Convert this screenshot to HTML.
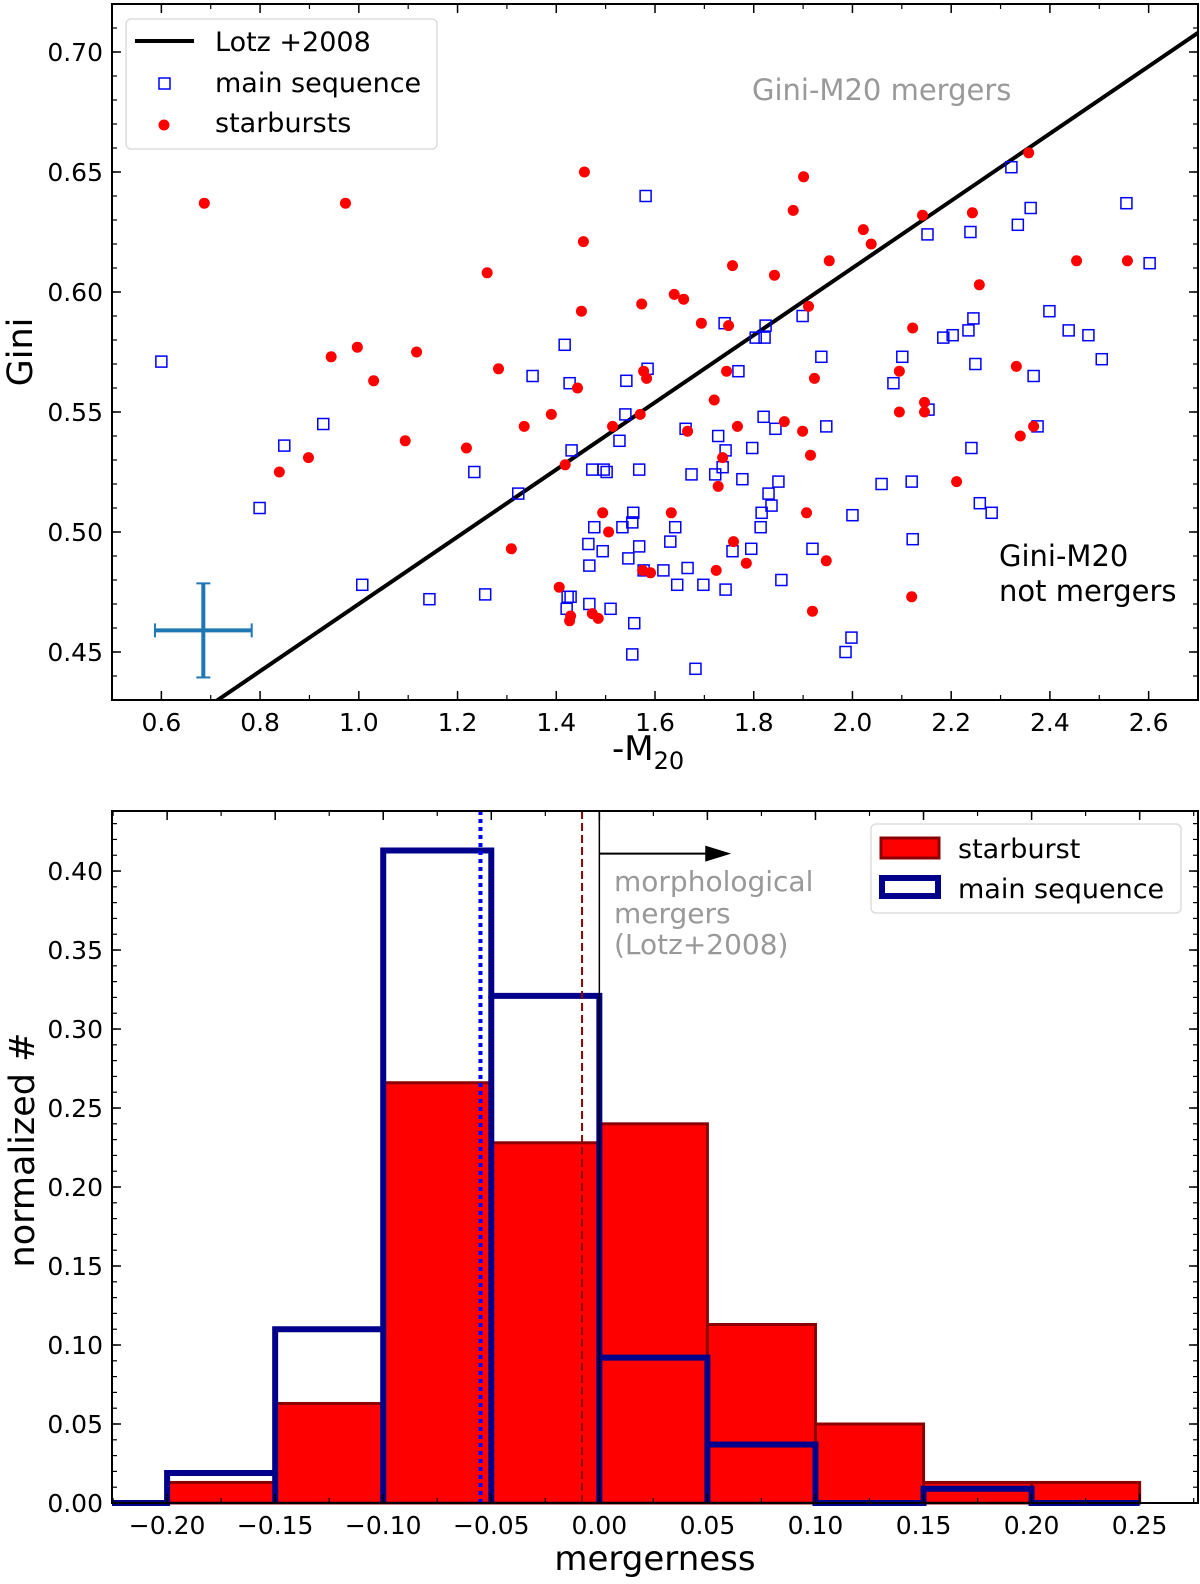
<!DOCTYPE html>
<html><head><meta charset="utf-8"><style>
body{margin:0;background:#fff}
svg{display:block;font-family:"DejaVu Sans","Liberation Sans",sans-serif}
</style></head><body>
<svg id="fig" width="1200" height="1584" viewBox="0 0 1200 1584" xmlns="http://www.w3.org/2000/svg"></svg>
<script>
// ---- top scatter data ----
const sbX=[0.687,0.973,0.944,0.997,1.030,1.117,1.094,0.839,0.898,1.218,1.260,1.283,1.335,1.390,1.418,1.443,1.451,1.457,1.455,1.309,1.406,1.429,1.427,1.473,1.485,1.494,1.506,1.514,1.570,1.577,1.583,1.573,1.575,1.591,1.633,1.639,1.658,1.666,1.694,1.720,1.728,1.724,1.737,1.745,1.749,1.757,1.767,1.785,1.842,1.862,1.880,1.901,1.899,1.911,1.915,1.907,1.919,1.923,1.947,1.953,2.022,2.038,2.142,2.122,2.095,2.095,2.120,2.146,2.146,2.211,2.243,2.257,2.332,2.340,2.367,2.357,2.454,2.557,1.759];
const sbY=[0.637,0.637,0.573,0.577,0.563,0.575,0.538,0.525,0.531,0.535,0.608,0.568,0.544,0.549,0.528,0.560,0.592,0.650,0.621,0.493,0.477,0.465,0.463,0.466,0.464,0.508,0.500,0.544,0.549,0.567,0.564,0.595,0.484,0.483,0.508,0.599,0.597,0.542,0.587,0.555,0.519,0.484,0.531,0.567,0.586,0.611,0.544,0.487,0.607,0.546,0.634,0.648,0.542,0.594,0.532,0.508,0.467,0.564,0.488,0.613,0.626,0.620,0.632,0.585,0.567,0.550,0.473,0.554,0.550,0.521,0.633,0.603,0.569,0.540,0.544,0.658,0.613,0.613,0.496];
const msX=[0.600,0.799,0.849,0.928,1.007,1.143,1.234,1.256,1.323,1.352,1.417,1.427,1.431,1.423,1.421,1.429,1.467,1.465,1.467,1.477,1.494,1.496,1.473,1.502,1.510,1.528,1.534,1.540,1.542,1.546,1.554,1.556,1.558,1.554,1.568,1.568,1.585,1.581,1.577,1.617,1.631,1.641,1.645,1.662,1.666,1.674,1.682,1.698,1.722,1.728,1.737,1.743,1.741,1.743,1.757,1.769,1.777,1.795,1.797,1.804,1.814,1.816,1.820,1.822,1.824,1.830,1.836,1.844,1.850,1.856,1.899,1.919,1.937,1.947,1.986,1.998,2.000,2.059,2.083,2.101,2.120,2.122,2.152,2.154,2.184,2.203,2.235,2.239,2.245,2.249,2.241,2.258,2.282,2.322,2.335,2.361,2.367,2.375,2.399,2.438,2.478,2.505,2.555,2.602];
const msY=[0.571,0.510,0.536,0.545,0.478,0.472,0.525,0.474,0.516,0.565,0.578,0.562,0.534,0.473,0.468,0.473,0.470,0.495,0.486,0.502,0.492,0.526,0.526,0.525,0.468,0.538,0.502,0.549,0.563,0.489,0.504,0.508,0.462,0.449,0.494,0.526,0.568,0.640,0.484,0.484,0.496,0.502,0.478,0.543,0.485,0.524,0.443,0.478,0.524,0.540,0.527,0.534,0.587,0.476,0.492,0.567,0.522,0.493,0.535,0.581,0.502,0.508,0.548,0.581,0.586,0.516,0.511,0.543,0.521,0.480,0.590,0.493,0.573,0.544,0.450,0.456,0.507,0.520,0.562,0.573,0.521,0.497,0.624,0.551,0.581,0.582,0.584,0.625,0.589,0.570,0.535,0.512,0.508,0.652,0.628,0.635,0.565,0.544,0.592,0.584,0.582,0.572,0.637,0.612];
const topXTicks=[0.6,0.8,1.0,1.2,1.4,1.6,1.8,2.0,2.2,2.4,2.6];
const topYTicks=[0.45,0.50,0.55,0.60,0.65,0.70];
// ---- bottom histogram data ----
const binEdges=[-0.20,-0.15,-0.10,-0.05,0.00,0.05,0.10,0.15,0.20,0.25];
const sbHist=[0.013,0.063,0.266,0.228,0.240,0.113,0.050,0.013,0.013];
const msHist=[0.019,0.110,0.413,0.321,0.092,0.037,0.000,0.009,0.000];
const botXTicks=[-0.20,-0.15,-0.10,-0.05,0.00,0.05,0.10,0.15,0.20,0.25];
const botYTicks=[0.00,0.05,0.10,0.15,0.20,0.25,0.30,0.35,0.40];
const msMedian=-0.055, sbMedian=-0.008, lotzCut=0.0;

const NS="http://www.w3.org/2000/svg";
const svg=document.getElementById('fig');
function mk(tag,attrs,parent){const e=document.createElementNS(NS,tag);for(const k in attrs)e.setAttribute(k,attrs[k]);(parent||svg).appendChild(e);return e;}

const T={l:112,r:1198,t:4,b:700,x0:0.5,x1:2.7,y0:0.43,y1:0.72};
const tx=v=>T.l+(v-T.x0)/(T.x1-T.x0)*(T.r-T.l);
const ty=v=>T.b-(v-T.y0)/(T.y1-T.y0)*(T.b-T.t);
const B={l:112,r:1198,t:811,b:1503,x0:-0.2255,x1:0.277,y0:0,y1:0.438};
const bx=v=>B.l+(v-B.x0)/(B.x1-B.x0)*(B.r-B.l);
const by=v=>B.b-(v-B.y0)/(B.y1-B.y0)*(B.b-B.t);

// ---- TOP PLOT ----
const gTop=mk('g',{});


const clipT=mk('clipPath',{id:'ct'});mk('rect',{x:T.l,y:T.t,width:T.r-T.l,height:T.b-T.t},clipT);
const lotz=mk('line',{x1:tx(0.5),y1:ty(0.14*0.5+0.33),x2:tx(2.7),y2:ty(0.14*2.7+0.33),stroke:'#000','stroke-width':4,'clip-path':'url(#ct)'},gTop);


const eb=mk('g',{stroke:'#1f77b4','stroke-width':4},gTop);


const ex=0.685,ey=0.459,dx=0.098,dy=0.0196;
mk('line',{x1:tx(ex-dx),y1:ty(ey),x2:tx(ex+dx),y2:ty(ey)},eb);
mk('line',{x1:tx(ex),y1:ty(ey-dy),x2:tx(ex),y2:ty(ey+dy)},eb);
mk('line',{x1:tx(ex-dx),y1:ty(ey)-7,x2:tx(ex-dx),y2:ty(ey)+7,'stroke-width':2},eb);
mk('line',{x1:tx(ex+dx),y1:ty(ey)-7,x2:tx(ex+dx),y2:ty(ey)+7,'stroke-width':2},eb);
mk('line',{x1:tx(ex)-7,y1:ty(ey-dy),x2:tx(ex)+7,y2:ty(ey-dy),'stroke-width':2},eb);
mk('line',{x1:tx(ex)-7,y1:ty(ey+dy),x2:tx(ex)+7,y2:ty(ey+dy),'stroke-width':2},eb);
msX.forEach((x,i)=>{const r=mk('rect',{x:tx(x)-5.5,y:ty(msY[i])-5.5,width:11,height:11,fill:'none',stroke:'#0000ff','stroke-width':1.5},gTop);

});
sbX.forEach((x,i)=>{const c=mk('circle',{cx:tx(x),cy:ty(sbY[i]),r:5.5,fill:'#ff0000'},gTop);

});

function axesFrame(A,fx,fy,xt,yt,xminor,yminor,xfmt,yfmt,name){
  const g=mk('g',{});
  
  
  mk('rect',{x:A.l,y:A.t,width:A.r-A.l,height:A.b-A.t,fill:'none',stroke:'#000','stroke-width':2},g);
  xt.forEach(v=>{const p=fx(v);mk('line',{x1:p,y1:A.b,x2:p,y2:A.b-9,stroke:'#000','stroke-width':1.5},g);mk('line',{x1:p,y1:A.t,x2:p,y2:A.t+9,stroke:'#000','stroke-width':1.5},g);
    const t=mk('text',{x:p,y:A.b+31,'font-size':25,'text-anchor':'middle'},g);t.textContent=xfmt(v);
    
    });
  yt.forEach(v=>{const p=fy(v);mk('line',{x1:A.l,y1:p,x2:A.l+9,y2:p,stroke:'#000','stroke-width':1.5},g);mk('line',{x1:A.r,y1:p,x2:A.r-9,y2:p,stroke:'#000','stroke-width':1.5},g);
    const t=mk('text',{x:A.l-9,y:p+9,'font-size':25,'text-anchor':'end'},g);t.textContent=yfmt(v);
    
    });
  xminor.forEach(v=>{const p=fx(v);if(p<A.l||p>A.r)return;mk('line',{x1:p,y1:A.b,x2:p,y2:A.b-5,stroke:'#000','stroke-width':1.2},g);mk('line',{x1:p,y1:A.t,x2:p,y2:A.t+5,stroke:'#000','stroke-width':1.2},g);});
  yminor.forEach(v=>{const p=fy(v);if(p<A.t||p>A.b)return;mk('line',{x1:A.l,y1:p,x2:A.l+5,y2:p,stroke:'#000','stroke-width':1.2},g);mk('line',{x1:A.r,y1:p,x2:A.r-5,y2:p,stroke:'#000','stroke-width':1.2},g);});
}
const txm=[],tym=[];for(let v=0.5;v<2.75;v+=0.2)txm.push(v);for(let v=0.43;v<0.725;v+=0.01)tym.push(v);
axesFrame(T,tx,ty,topXTicks,topYTicks,txm,tym,v=>v.toFixed(1),v=>v.toFixed(2),'top-axes');

// ---- BOTTOM PLOT ----
const gB=mk('g',{});


sbHist.forEach((h,i)=>{const x0=bx(binEdges[i]),x1=bx(binEdges[i+1]);
  const r=mk('rect',{x:x0,y:by(h),width:x1-x0,height:by(0)-by(h),fill:'#ff0000',stroke:'#8b0000','stroke-width':3},gB);
  
  });
let d='M'+bx(B.x0)+','+by(0)+' L'+bx(binEdges[0])+','+by(0);
msHist.forEach((h,i)=>{d+=' L'+bx(binEdges[i])+','+by(h)+' L'+bx(binEdges[i+1])+','+by(h);});
d+=' L'+bx(binEdges[binEdges.length-1])+','+by(0);
msHist.forEach((h,i)=>{if(i>0){const p=mk('line',{x1:bx(binEdges[i]),y1:by(0),x2:bx(binEdges[i]),y2:by(Math.min(h,msHist[i-1])),stroke:'#00008b','stroke-width':6},gB);

}});
const ms=mk('path',{d:d,fill:'none',stroke:'#00008b','stroke-width':6},gB);


const l1=mk('line',{x1:bx(msMedian),y1:B.t,x2:bx(msMedian),y2:B.b,stroke:'#0000ff','stroke-width':4,'stroke-dasharray':'4,4'},gB);


const l2=mk('line',{x1:bx(sbMedian),y1:B.t,x2:bx(sbMedian),y2:B.b,stroke:'#8b0000','stroke-width':2,'stroke-dasharray':'8,4'},gB);


const l3=mk('line',{x1:bx(lotzCut),y1:B.t,x2:bx(lotzCut),y2:B.b,stroke:'#000','stroke-width':1.5},gB);


const ar=mk('g',{},gB);


mk('line',{x1:bx(0),y1:by(0.411),x2:bx(0.052),y2:by(0.411),stroke:'#000','stroke-width':2},ar);
mk('polygon',{points:`${bx(0.061)},${by(0.411)} ${bx(0.049)},${by(0.411)-8} ${bx(0.049)},${by(0.411)+8}`,fill:'#000'},ar);
const bxm=[],bym=[];for(let v=-0.225;v<0.28;v+=0.025)bxm.push(v);for(let v=0;v<0.44;v+=0.01)bym.push(v);
axesFrame(B,bx,by,botXTicks,botYTicks,bxm,bym,v=>(v<0?'\u2212':'')+Math.abs(v).toFixed(2),v=>v.toFixed(2),'bottom-axes');
</script>
<svg style="position:absolute;left:0;top:0" width="1200" height="1584">
<g font-family="DejaVu Sans, Liberation Sans, sans-serif">
<text x="32" y="352" font-size="35" text-anchor="middle" transform="rotate(-90 32 352)">Gini</text>
<text x="612" y="760" font-size="34">-M<tspan font-size="24" dy="9">20</tspan></text>
<text x="752" y="100" font-size="29" fill="#999">Gini-M20 mergers</text>
<text x="999" y="566" font-size="29">Gini-M20</text>
<text x="999" y="601" font-size="29">not mergers</text>
<g>
<rect x="126" y="19" width="311" height="130" rx="5" fill="#fff" fill-opacity="0.8" stroke="#ddd" stroke-width="1.5"/>
<line x1="135" y1="41" x2="194" y2="41" stroke="#000" stroke-width="4"/>
<text x="215" y="51" font-size="27">Lotz +2008</text>
<rect x="159" y="78" width="11" height="11" fill="none" stroke="#0000ff" stroke-width="1.5"/>
<text x="215" y="92" font-size="27">main sequence</text>
<circle cx="164" cy="125" r="5.5" fill="#ff0000"/>
<text x="215" y="132" font-size="27">starbursts</text>
</g>
<text x="34" y="1150" font-size="35" text-anchor="middle" transform="rotate(-90 34 1150)">normalized #</text>
<text x="655" y="1570" font-size="34" text-anchor="middle">mergerness</text>
<text x="614" y="891" font-size="28" fill="#999">morphological</text>
<text x="614" y="923" font-size="28" fill="#999">mergers</text>
<text x="614" y="954" font-size="28" fill="#999">(Lotz+2008)</text>
<g>
<rect x="871" y="824" width="310" height="89" rx="5" fill="#fff" fill-opacity="0.8" stroke="#ddd" stroke-width="1.5"/>
<rect x="881" y="838" width="58" height="20" fill="#ff0000" stroke="#8b0000" stroke-width="3"/>
<text x="958" y="858" font-size="27">starburst</text>
<rect x="882" y="878" width="56" height="18" fill="none" stroke="#00008b" stroke-width="6"/>
<text x="958" y="898" font-size="27">main sequence</text>
</g>
</g>
</svg>
</body></html>
